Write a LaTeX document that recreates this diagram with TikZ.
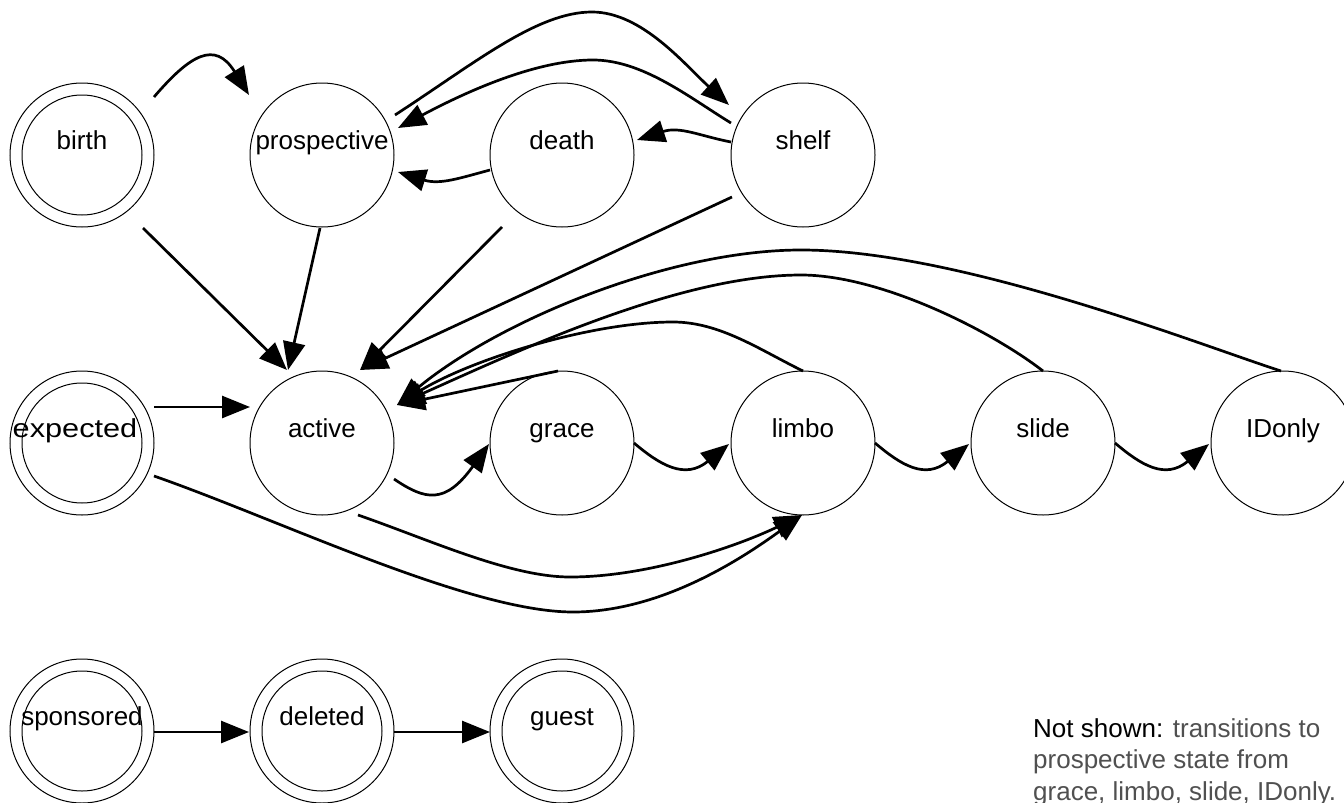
\documentclass[tikz,border=0pt]{standalone}
\usepackage{fontspec}
\setmainfont{Liberation Sans}
\usetikzlibrary{arrows.meta,calc}
\definecolor{notegray}{RGB}{80,80,80}
\begin{document}
\begin{tikzpicture}[x=1pt,y=-1pt,
  state/.style={circle, draw, line width=1pt, minimum size=144pt, inner sep=0pt},
  accept/.style={state, path picture={\draw[line width=1pt] (path picture bounding box.center) circle (60pt);}},
  lbl/.style={anchor=base, inner sep=0pt, font=\fontsize{26}{31}\selectfont},
  note/.style={anchor=base west, inner sep=0pt, font=\fontsize{26}{31}\selectfont, text=notegray},
  edge/.style={line width=2.7pt, -{Triangle[length=28pt,width=22pt]}}]
\useasboundingbox (0,0) rectangle (1344,803);
\fill[white] (0,0) rectangle (1344,803);
\clip (0,0) rectangle (1344,803);

% states
\node[accept] (birth) at (82,155) {};
\node[state] (prospective) at (322,155) {};
\node[state] (death) at (562,155) {};
\node[state] (shelf) at (803,155) {};
\node[accept] (expected) at (82,443) {};
\node[state] (active) at (322,443) {};
\node[state] (grace) at (562,443) {};
\node[state] (limbo) at (803,443) {};
\node[state] (slide) at (1043,443) {};
\node[state] (idonly) at (1283,443) {};
\node[accept] (sponsored) at (82,731) {};
\node[accept] (deleted) at (322,731) {};
\node[accept] (guest) at (562,731) {};

% state names, set a little above the centre
\foreach \s/\t in {birth/birth, prospective/prospective, death/death, shelf/shelf,
  active/active, grace/grace, limbo/limbo, slide/slide,
  idonly/IDonly, sponsored/sponsored, deleted/deleted, guest/guest}
  \node[lbl] (\s-l) at ([yshift=6pt]\s.center) {\t};
\node[lbl] (expected-l) at ([shift={(-7,-6)}]expected.center) {\scalebox{1.18}[1]{expected}};

% top row
\draw[edge] ([shift={(72,-58)}]birth.center) .. controls +(36,-42) and +(-34,-55) .. ([shift={(-73,-60)}]prospective.center);
\draw[edge] ([shift={(73,-40)}]prospective.center) .. controls +(80,-52) and +(-55,0) .. ++(197,-103)
  .. controls +(50,0) and +(-44,-40) .. ([shift={(-74,-50)}]shelf.center);
\draw[edge] ([shift={(-72,-32)}]shelf.center) .. controls +(-41,-25) and +(50,0) .. ++(-138,-63)
  .. controls +(-60,0) and +(62,-33) .. ([shift={(76,-27)}]prospective.center);
\draw[edge] ([shift={(-72,-13)}]shelf.center) .. controls +(-31,-6) and +(43,-14) .. ([shift={(75,-15)}]death.center);
\draw[edge] ([shift={(-72,15)}]death.center) .. controls +(-30,8) and +(42,13) .. ([shift={(76,17)}]prospective.center);

% into active from above
\draw[edge] ([shift={(61,73)}]birth.center) -- ([shift={(-35,-73)}]active.center);
\draw[edge] ([shift={(-2,73)}]prospective.center) -- ([shift={(-34,-73)}]active.center);
\draw[edge] ([shift={(-60,72)}]death.center) -- ([shift={(38,-73)}]active.center);
\draw[edge] ([shift={(-71,42)}]shelf.center) -- ([shift={(38,-73)}]active.center);

% middle row
\draw[edge] ([shift={(72,-36)}]expected.center) -- ([shift={(-72,-36)}]active.center);
\draw[edge] ([shift={(72,36)}]active.center) .. controls +(31,21) and +(-44,61) .. ([shift={(-73,1)}]grace.center);
\draw[edge] ([shift={(72,0)}]grace.center) .. controls +(26,22) and +(-44,36) .. ([shift={(-74,1)}]limbo.center);
\draw[edge] ([shift={(72,0)}]limbo.center) .. controls +(26,22) and +(-44,36) .. ([shift={(-74,1)}]slide.center);
\draw[edge] ([shift={(72,0)}]slide.center) .. controls +(26,22) and +(-44,36) .. ([shift={(-74,1)}]idonly.center);

% long arcs below
\draw[edge] ([shift={(36,72)}]active.center) .. controls +(72,25) and +(-60,0) .. ++(212,62)
  .. controls +(80,0) and +(-62,30) .. ([shift={(-1,72)}]limbo.center);
\draw[edge] ([shift={(72,33)}]expected.center) .. controls +(126,44) and +(-103,0) .. ++(419,136)
  .. controls +(87,0) and +(-62,45) .. ([shift={(-1,72)}]limbo.center);

% back to active
\draw[edge] ([shift={(-4,-72)}]grace.center) -- ([shift={(75,-38)}]active.center);
\draw[edge] ([shift={(0,-72)}]limbo.center) .. controls +(-43,-21) and +(47,0) .. ++(-130,-49)
  .. controls +(-83,0) and +(73,-45) .. ([shift={(75,-38)}]active.center);
\draw[edge] ([shift={(0,-72)}]slide.center) .. controls +(-53,-41) and +(79,0) .. ++(-242,-96)
  .. controls +(-121,0) and +(123,-55) .. ([shift={(75,-38)}]active.center);
\draw[edge] ([shift={(-2,-72)}]idonly.center) .. controls +(-81,-26) and +(159,0) .. ++(-480,-121)
  .. controls +(-131,0) and +(103,-85) .. ([shift={(75,-38)}]active.center);

% bottom row
\draw[edge] ([shift={(72,1)}]sponsored.center) -- ([shift={(-73,1)}]deleted.center);
\draw[edge] ([shift={(72,1)}]deleted.center) -- ([shift={(-72,1)}]guest.center);

% note
\node[note] (note1) at (1033,737) {\textcolor{black}{Not shown:} transitions to};
\node[note] (note2) at (1033,768.5) {prospective state from};
\node[note] (note3) at (1033,800) {grace, limbo, slide, IDonly.};
\end{tikzpicture}
\end{document}
